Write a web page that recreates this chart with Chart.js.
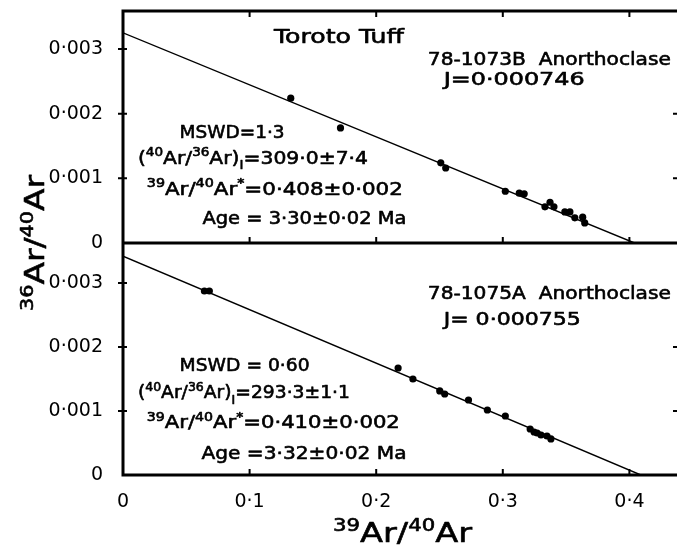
<!DOCTYPE html>
<html>
<head>
<meta charset="utf-8">
<script src="https://cdn.jsdelivr.net/npm/chart.js@4.4.1/dist/chart.umd.min.js"></script>
<style>
html,body{margin:0;padding:0;background:#fff;}
#wrap{width:681px;height:545px;position:relative;}
</style>
</head>
<body>
<div id="wrap"><canvas id="c" width="681" height="545"></canvas></div>
<script>
// ---- data ----
const xTicks = [0, 0.1, 0.2, 0.3, 0.4];
const yTicks = [0, 0.001, 0.002, 0.003];

// upper panel: 78-1073B
const topX = [0.1325, 0.1718, 0.2510, 0.2549, 0.3020, 0.3130, 0.3169, 0.3333, 0.3373, 0.3404, 0.3490, 0.3530, 0.3569, 0.3631, 0.3647];
const topY = [0.00224, 0.00178, 0.00124, 0.00116, 0.00080, 0.00077, 0.00076, 0.00056, 0.00063, 0.00056, 0.00048, 0.00048, 0.00039, 0.00040, 0.00031];
const topFitX = [0, 0.404];
const topFitY = [0.00325, 0];

// lower panel: 78-1075A
const botX = [0.0643, 0.0682, 0.2173, 0.2290, 0.2502, 0.2541, 0.2729, 0.2878, 0.3020, 0.3216, 0.3247, 0.3271, 0.3302, 0.3349, 0.3380];
const botY = [0.002875, 0.002875, 0.001672, 0.001500, 0.001313, 0.001266, 0.001172, 0.001016, 0.000922, 0.000719, 0.000672, 0.000656, 0.000625, 0.000609, 0.000563];
const botFitX = [0, 0.409];
const botFitY = [0.00342, 0];

const FAM = '"DejaVu Sans", sans-serif';

// text notes: segments [text, kind] ; kind n = normal, p = superscript, b = subscript
const topNotes = [
  {x:0.1192, y:0.00320, w:130, s:19, segs:[['Toroto Tuff','n']]},
  {x:0.2408, y:0.00286, w:243, s:18, segs:[['78-1073B  Anorthoclase','n']]},
  {x:0.2533, y:0.00254, w:141, s:18, segs:[['J=0·000746','n']]},
  {x:0.0447, y:0.00172, w:105, s:18, segs:[['MSWD=1·3','n']]},
  {x:0.0118, y:0.00133, w:230, s:18, segs:[['(','n'],['40','p'],['Ar/','n'],['36','p'],['Ar)','n'],['I','b'],['=309·0±7·4','n']]},
  {x:0.0188, y:0.00085, w:256, s:18, segs:[['39','p'],['Ar/','n'],['40','p'],['Ar','n'],['*','p'],['=0·408±0·002','n']]},
  {x:0.0627, y:0.00039, w:204, s:18, segs:[['Age = 3·30±0·02 Ma','n']]}
];
const botNotes = [
  {x:0.2408, y:0.00286, w:243, s:18, segs:[['78-1075A  Anorthoclase','n']]},
  {x:0.2533, y:0.00245, w:137, s:18, segs:[['J= 0·000755','n']]},
  {x:0.0447, y:0.00172, w:130, s:18, segs:[['MSWD = 0·60','n']]},
  {x:0.0118, y:0.00130, w:212, s:18, segs:[['(','n'],['40','p'],['Ar/','n'],['36','p'],['Ar)','n'],['I','b'],['=293·3±1·1','n']]},
  {x:0.0188, y:0.00083, w:253, s:18, segs:[['39','p'],['Ar/','n'],['40','p'],['Ar','n'],['*','p'],['=0·410±0·002','n']]},
  {x:0.0620, y:0.00036, w:205, s:18, segs:[['Age =3·32±0·02 Ma','n']]}
];

function fmt(v){ return v === 0 ? '0' : String(+v.toFixed(4)).replace('.', '·'); }
function pts(xs, ys){ return xs.map((x,i)=>({x:x, y:ys[i]})); }

function drawRich(ctx, segs, x, yc, size, targetW, rot){
  const fontFor = k => (k==='n' ? size : Math.round(size*0.64)) + 'px ' + FAM;
  const shift = k => k==='p' ? -size*0.40 : (k==='b' ? size*0.30 : 0);
  let w = 0;
  for (const [t,k] of segs){ ctx.font = fontFor(k); w += ctx.measureText(t).width; }
  const sx = targetW ? targetW / w : 1;
  ctx.save();
  ctx.translate(x, yc);
  if (rot) ctx.rotate(rot);
  ctx.scale(sx, 1);
  ctx.fillStyle = '#000';
  ctx.strokeStyle = '#000';
  ctx.lineWidth = 0.6;
  ctx.lineJoin = 'round';
  ctx.textBaseline = 'alphabetic';
  ctx.textAlign = 'left';
  let cx = 0;
  const base = size*0.365;
  for (const [t,k] of segs){
    ctx.font = fontFor(k);
    ctx.fillText(t, cx, base + shift(k));
    ctx.strokeText(t, cx, base + shift(k));
    cx += ctx.measureText(t).width;
  }
  ctx.restore();
  return w*sx;
}

const framePlugin = {
  id: 'frame',
  afterDatasetsDraw(chart){
    const ctx = chart.ctx;
    const ca = chart.chartArea;
    const xs = chart.scales.x, yT = chart.scales.yTop, yB = chart.scales.yBot;
    ctx.save();
    ctx.strokeStyle = '#000';
    ctx.lineCap = 'butt';
    // frame lines
    ctx.lineWidth = 3;
    ctx.beginPath();
    ctx.moveTo(ca.left, ca.top - 1.5); ctx.lineTo(ca.left, ca.bottom + 1.5);
    ctx.moveTo(ca.left, yT.top); ctx.lineTo(ca.right, yT.top);
    ctx.moveTo(ca.left, yT.bottom); ctx.lineTo(ca.right, yT.bottom);
    ctx.moveTo(ca.left, yB.bottom); ctx.lineTo(ca.right, yB.bottom);
    ctx.stroke();
    // ticks
    ctx.lineWidth = 2;
    ctx.beginPath();
    for (const v of xTicks){
      if (v === 0) continue;
      const px = xs.getPixelForValue(v);
      ctx.moveTo(px, yT.top); ctx.lineTo(px, yT.top + 6);
      ctx.moveTo(px, yT.bottom); ctx.lineTo(px, yT.bottom - 6);
      ctx.moveTo(px, yB.bottom); ctx.lineTo(px, yB.bottom - 6);
    }
    for (const sc of [yT, yB]){
      for (const v of yTicks){
        if (v === 0) continue;
        const py = sc.getPixelForValue(v);
        ctx.moveTo(ca.left - 5, py); ctx.lineTo(ca.left + 4, py);
        if (v !== 0.003){ ctx.moveTo(ca.right - 4, py); ctx.lineTo(ca.right, py); }
      }
    }
    ctx.stroke();
    // notes
    for (const [notes, sc] of [[topNotes, yT], [botNotes, yB]]){
      for (const n of notes){
        drawRich(ctx, n.segs, xs.getPixelForValue(n.x), sc.getPixelForValue(n.y), n.s, n.w, 0);
      }
    }
    // axis titles
    drawRich(ctx, [['39','p'],['Ar/','n'],['40','p'],['Ar','n']], 333, 532, 27, 139, 0);
    drawRich(ctx, [['36','p'],['Ar/','n'],['40','p'],['Ar','n']], 34, 311, 27, 136, -Math.PI/2);
    ctx.restore();
  }
};

const tickFont = {family: FAM, size: 19};
const noPad = s => { s.paddingTop = 0; s.paddingBottom = 0; s.paddingLeft = 0; s.paddingRight = 0; };

new Chart(document.getElementById('c'), {
  type: 'scatter',
  data: {
    datasets: [
      {data: pts(topX, topY), yAxisID: 'yTop', backgroundColor:'#000', borderColor:'#000', pointRadius: 3.6, pointBorderWidth: 0},
      {data: pts(topFitX, topFitY), yAxisID: 'yTop', showLine: true, borderColor:'#000', borderWidth: 1.4, pointRadius: 0},
      {data: pts(botX, botY), yAxisID: 'yBot', backgroundColor:'#000', borderColor:'#000', pointRadius: 3.6, pointBorderWidth: 0},
      {data: pts(botFitX, botFitY), yAxisID: 'yBot', showLine: true, borderColor:'#000', borderWidth: 1.4, pointRadius: 0}
    ]
  },
  options: {
    responsive: false,
    animation: false,
    devicePixelRatio: 1,
    layout: {padding: {top: 11, right: 0, left: 0, bottom: 0}},
    plugins: {legend: {display: false}, tooltip: {enabled: false}},
    scales: {
      x: {
        type: 'linear', position: 'bottom', min: 0, max: 0.4376,
        grid: {display: false}, border: {display: false},
        afterBuildTicks: s => { s.ticks = xTicks.map(v => ({value: v})); },
        afterFit: s => { s.height = 70; noPad(s); },
        ticks: {color:'#000', font: tickFont, padding: 8, maxRotation: 0, autoSkip: false, callback: v => fmt(v)}
      },
      yBot: {
        type: 'linear', position: 'left', stack: 'panels', stackWeight: 1,
        min: 0, max: 0.003625,
        grid: {display: false}, border: {display: false},
        afterBuildTicks: s => { s.ticks = yTicks.map(v => ({value: v})); },
        afterFit: s => { s.width = 123; noPad(s); },
        ticks: {color:'#000', font: tickFont, padding: 12, autoSkip: false, callback: v => fmt(v)}
      },
      yTop: {
        type: 'linear', position: 'left', stack: 'panels', stackWeight: 1,
        min: 0, max: 0.003588,
        grid: {display: false}, border: {display: false},
        afterBuildTicks: s => { s.ticks = yTicks.map(v => ({value: v})); },
        afterFit: s => { s.width = 123; noPad(s); },
        ticks: {color:'#000', font: tickFont, padding: 12, autoSkip: false, callback: v => fmt(v)}
      }
    }
  },
  plugins: [framePlugin]
});
</script>
</body>
</html>
